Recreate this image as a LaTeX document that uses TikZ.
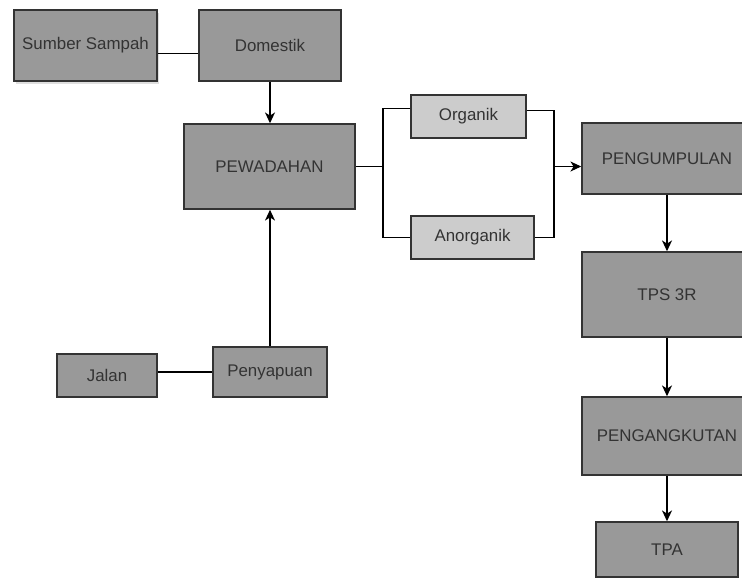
\documentclass[tikz,border=0pt]{standalone}
\usepackage{fontspec}
\setmainfont{Liberation Sans}
\usetikzlibrary{arrows.meta,shadows}
\definecolor{boxfill}{HTML}{999999}
\definecolor{lightfill}{HTML}{CCCCCC}
\definecolor{inkgray}{HTML}{333333}

\tikzset{
    box/.style={draw=inkgray, line width=1.1pt, fill=boxfill, text=inkgray, align=center, inner sep=0pt},
    lightbox/.style={box, fill=lightfill},
    link/.style={draw=black, line width=0.8pt},
    flow/.style={link, -{Stealth[length=0.27cm, width=0.25cm, inset=0.08cm]}},
}

\begin{document}
\begin{tikzpicture}[node distance=2cm, font=\fontsize{12}{14}\selectfont]
    \path[use as bounding box, clip] (0,0) rectangle (18.55,-14.45);

    % sources
    \node[box, minimum width=3.575cm, minimum height=1.775cm,
          drop shadow={opacity=0.25, shadow xshift=0.05cm, shadow yshift=-0.07cm}] (sumber) at (2.1375,-1.1375) {Sumber Sampah};
    \node[box, minimum width=3.55cm, minimum height=1.775cm] (domestik) at (6.75,-1.1375) {Domestik};
    \node[box, minimum width=2.5cm, minimum height=1.075cm] (jalan) at (2.675,-9.3875) {Jalan};
    \node[box, minimum width=2.85cm, minimum height=1.25cm] (penyapuan) at (6.75,-9.3) {Penyapuan};

    % container and sorting
    \node[box, minimum width=4.275cm, minimum height=2.125cm] (pewadahan) at (6.7375,-4.1625) {PEWADAHAN};
    \node[lightbox, minimum width=2.875cm, minimum height=1.075cm] (organik) at (11.7125,-2.9125) {Organik};
    \node[lightbox, minimum width=3.075cm, minimum height=1.075cm] (anorganik) at (11.8125,-5.9375) {Anorganik};
    \coordinate (split) at (9.575,-4.1625);
    \coordinate (join) at (13.85,-4.1625);

    % processing chain
    \node[box, minimum width=4.25cm, minimum height=1.775cm] (pengumpulan) at (16.675,-3.9625) {PENGUMPULAN};
    \node[box, below of=pengumpulan, node distance=3.4cm, minimum width=4.25cm, minimum height=2.125cm] (tps) {TPS 3R};
    \node[box, below of=tps, node distance=3.5375cm, minimum width=4.25cm, minimum height=1.95cm] (pengangkutan) {PENGANGKUTAN};
    \node[box, below of=pengangkutan, node distance=2.8375cm, minimum width=3.55cm, minimum height=1.375cm] (tpa) {TPA};

    \draw[link] ([yshift=-0.19cm]sumber.east) -- ([yshift=-0.19cm]domestik.west);
    \draw[flow] (domestik.south) -- (domestik.south |- pewadahan.north);
    \draw[link] (penyapuan.west -| jalan.east) -- (penyapuan.west);
    \draw[flow] (penyapuan.north) -- (penyapuan.north |- pewadahan.south);

    \draw[link] (pewadahan.east) -- (split);
    \draw[link] ([yshift=0.19cm]organik.west) -| (split) |- (anorganik.west);
    \draw[link] ([yshift=0.16cm]organik.east) -| (join) |- (anorganik.east);
    \draw[flow] (join) -- (join -| pengumpulan.west);

    \draw[flow] (pengumpulan) -- (tps);
    \draw[flow] (tps) -- (pengangkutan);
    \draw[flow] (pengangkutan) -- (tpa);

\end{tikzpicture}
\end{document}
